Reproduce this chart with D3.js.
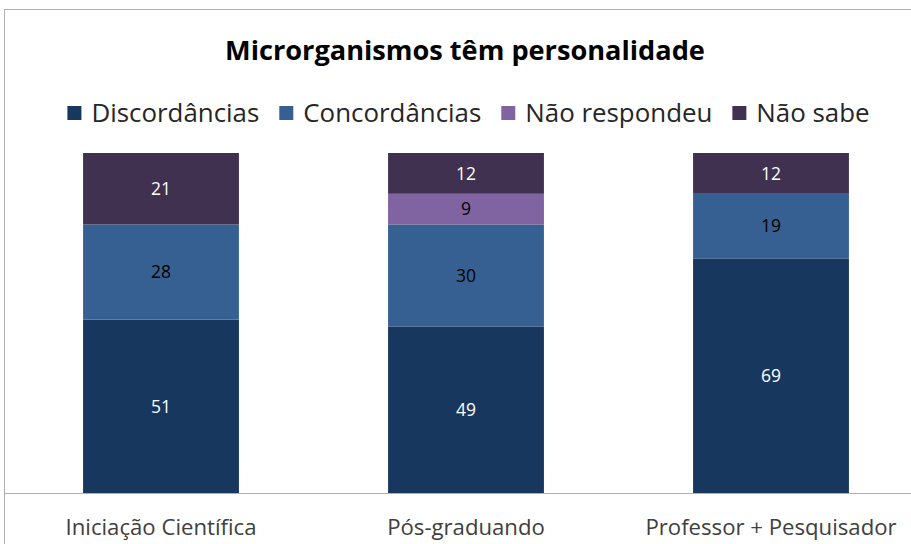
<!DOCTYPE html>
<html>
<head>
<meta charset="utf-8">
<script src="https://cdn.jsdelivr.net/npm/d3@7"></script>
<style>
  body { margin: 0; background: #fff; }
  svg { display: block; }
</style>
</head>
<body>
<svg id="chart" width="911" height="544"></svg>
<script>
// data (percent per group)
var categories = ["Iniciação Científica", "Pós-graduando", "Professor + Pesquisador"];
var seriesNames = ["Discordâncias", "Concordâncias", "Não respondeu", "Não sabe"];
var discordancias = [51, 49, 69];
var concordancias = [28, 30, 19];
var naoRespondeu = [0, 9, 0];
var naoSabe = [21, 12, 12];
var seriesColors = ["#17375E", "#376092", "#8064A2", "#403151"];
var labelColors = ["#ffffff", "#000000", "#000000", "#ffffff"];

var seriesValues = [discordancias, concordancias, naoRespondeu, naoSabe];

var rows = categories.map(function (c, i) {
  var row = { cat: c };
  seriesNames.forEach(function (s, j) { row[s] = seriesValues[j][i]; });
  return row;
});

var svg = d3.select("#chart");
var font = "'Open Sans', 'DejaVu Sans', sans-serif";

// outer frame (right/bottom edges fall outside the crop)
svg.append("rect")
  .attr("x", 4.5).attr("y", 9.5)
  .attr("width", 1000).attr("height", 1000)
  .attr("fill", "none")
  .attr("stroke", "#b0b0b0");

// scale font so the text is about as wide as in the reference
function fitWidth(sel, target) {
  var node = sel.node();
  var size = parseFloat(sel.attr("font-size"));
  var w = node.getComputedTextLength();
  sel.attr("font-size", (size * target / w).toFixed(2));
  return size * target / w;
}

var plotTop = 153, plotBottom = 493;

var xScale = d3.scaleBand()
  .domain(categories)
  .range([8.5, 923.5])
  .paddingInner(0.489)
  .paddingOuter(0.2445);

var yScale = d3.scaleLinear()
  .domain([0, 100])
  .range([plotBottom, plotTop]);

var stack = d3.stack().keys(seriesNames);
var layers = stack(rows);

var groups = svg.selectAll("g.layer")
  .data(layers)
  .enter().append("g")
  .attr("class", "layer")
  .attr("fill", function (d, i) { return seriesColors[i]; });

groups.selectAll("rect")
  .data(function (d) { return d; })
  .enter().append("rect")
  .attr("x", function (d) { return xScale(d.data.cat); })
  .attr("width", xScale.bandwidth())
  .attr("y", function (d) { return yScale(d[1]); })
  .attr("height", function (d) { return yScale(d[0]) - yScale(d[1]); });

// value labels
layers.forEach(function (layer, i) {
  svg.append("g").selectAll("text")
    .data(layer.filter(function (d) { return d[1] - d[0] > 0; }))
    .enter().append("text")
    .attr("x", function (d) { return xScale(d.data.cat) + xScale.bandwidth() / 2; })
    .attr("y", function (d) { return yScale((d[0] + d[1]) / 2); })
    .attr("dy", "0.36em")
    .attr("text-anchor", "middle")
    .attr("font-family", font)
    .attr("font-size", 17.5)
    .attr("fill", labelColors[i])
    .text(function (d) { return d[1] - d[0]; });
});

// x axis
var xAxis = svg.append("g")
  .attr("transform", "translate(0," + plotBottom + ")")
  .call(d3.axisBottom(xScale).tickSize(0).tickPadding(0));
xAxis.select(".domain").remove();
xAxis.append("line")
  .attr("x1", 4).attr("x2", 911)
  .attr("y1", 0.5).attr("y2", 0.5)
  .attr("stroke", "#b0b0b0");
var tickTexts = xAxis.selectAll(".tick text")
  .attr("y", 42)
  .attr("dy", 0)
  .attr("font-family", font)
  .attr("font-size", 17)
  .attr("fill", "#404040");
var tickSize = fitWidth(d3.select(tickTexts.nodes()[0]), 191);
tickTexts.attr("font-size", tickSize.toFixed(2));

// title
var title = svg.append("text")
  .attr("x", 465)
  .attr("y", 60)
  .attr("text-anchor", "middle")
  .attr("font-family", font)
  .attr("font-weight", "bold")
  .attr("font-size", 24)
  .attr("fill", "#000")
  .text("Microrganismos têm personalidade");
fitWidth(title, 480);

// legend
var legend = svg.append("g");
var items = legend.selectAll("g")
  .data(seriesNames)
  .enter().append("g");
items.append("rect")
  .attr("width", 14).attr("height", 14)
  .attr("y", -7)
  .attr("fill", function (d, i) { return seriesColors[i]; });
var legendTexts = items.append("text")
  .attr("x", 24)
  .attr("dy", "0.36em")
  .attr("font-family", font)
  .attr("font-size", 22)
  .attr("fill", "#262626")
  .text(function (d) { return d; });
var legendSize = fitWidth(d3.select(legendTexts.nodes()[0]), 168);
legendTexts.attr("font-size", legendSize.toFixed(2));
var gap = 20;
var pos = 0;
items.each(function () {
  var g = d3.select(this);
  g.attr("transform", "translate(" + pos + ",0)");
  pos += 24 + g.select("text").node().getComputedTextLength() + gap;
});
var legendWidth = pos - gap;
legend.attr("transform", "translate(" + (468.5 - legendWidth / 2) + ",113)");
</script>
</body>
</html>
